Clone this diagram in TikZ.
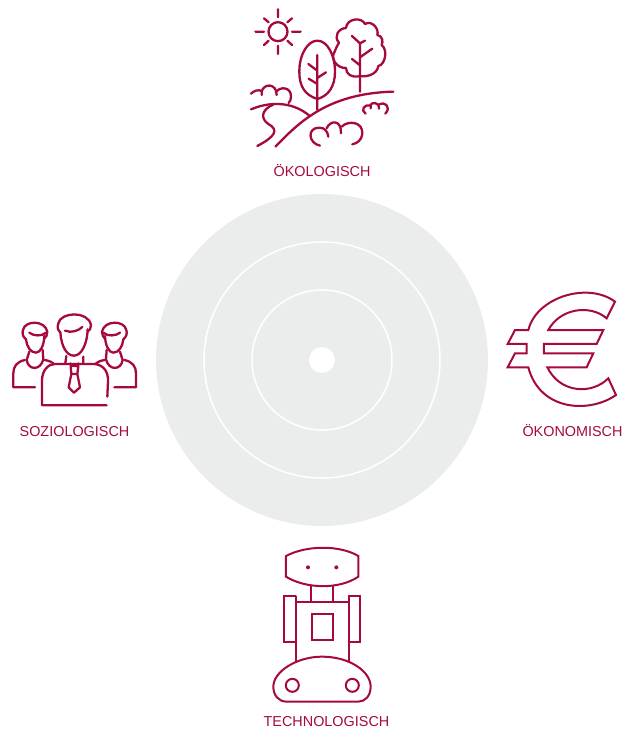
\documentclass[tikz,border=0pt]{standalone}
\usepackage{fontspec}
\setmainfont{Liberation Sans}
\definecolor{wine}{HTML}{A5093F}
\definecolor{discgrey}{HTML}{EBECEC}
\tikzset{
  icon/.style={draw=wine,line width=2.3pt,line cap=round,line join=round},
  thin icon/.style={draw=wine,line width=2pt,line cap=round,line join=miter},
  ring/.style={draw=white,line width=1.5pt},
  lbl/.style={text=wine,font=\fontsize{14.4}{16}\selectfont,inner sep=0pt,anchor=center},
  zoomed/.style={x=0.3333pt,y=-0.3333pt}
}
\begin{document}
\begin{tikzpicture}[x=1pt,y=-1pt]
\useasboundingbox (0,0) rectangle (632,729);
% disc
\fill[discgrey] (322,360) circle[radius=166pt];
\draw[ring] (322,360) circle[radius=118pt];
\draw[ring] (322,360) circle[radius=70pt];
\fill[white] (322,360) circle[radius=13pt];
% labels
\node[lbl] (oek) at (322,171) {ÖKOLOGISCH};
\node[lbl] (soz) at (74.5,432) {SOZIOLOGISCH};
\node[lbl] (oekon) at (572.5,431) {ÖKONOMISCH};
\node[lbl] (tech) at (326.5,722) {TECHNOLOGISCH};
% ecological icon
\begin{scope}[shift={(240,0)},zoomed]
\path[icon] (114,95) circle[radius=9.5pt];
\path[icon] (114,28)--(114,52) (114,137)--(114,162) (46,95)--(72,95) (156,95)--(182,95)
 (72,55)--(86,67) (156,55)--(142,67) (72,135)--(86,122) (156,135)--(142,122);
\path[icon] (232,297) .. controls (195,285) and (178,260) .. (178,215) .. controls (178,160) and (205,122) .. (232,122) .. controls (262,122) and (285,165) .. (285,215) .. controls (285,260) and (265,288) .. (232,297);
\path[icon] (232,165)--(232,330) (232,212)--(205,192) (232,234)--(258,217) (232,252)--(206,236);
\path[icon] (318,84) .. controls (320,55) and (365,50) .. (375,72) .. controls (395,60) and (418,85) .. (412,105) .. controls (428,108) and (430,125) .. (425,135) .. controls (445,150) and (435,195) .. (415,198) .. controls (412,225) and (375,232) .. (360,228) .. controls (335,235) and (318,222) .. (318,204) .. controls (290,205) and (270,175) .. (284,155) .. controls (288,145) and (292,135) .. (297,128) .. controls (280,110) and (295,85) .. (318,84);
\path[icon] (360,128)--(360,275) (360,130)--(336,108) (360,130)--(375,122) (360,172)--(397,146) (360,196)--(336,177);
\path[icon] (106,440) .. controls (175,370) and (260,280) .. (460,275);
\path[icon] (33,328) .. controls (100,300) and (165,310) .. (208,347);
\path[icon] (100,314) .. controls (65,328) and (60,355) .. (85,372) .. controls (118,390) and (105,410) .. (52,438);
\path[icon] (33,281) .. controls (42,272) and (55,268) .. (65,273) -- (65,285);
\path[icon] (65,275) .. controls (70,250) and (110,248) .. (110,285);
\path[icon] (107,277) .. controls (120,258) and (155,260) .. (153,292) .. controls (153,298) and (150,304) .. (146,309);
\path[icon] (240,437) .. controls (205,430) and (200,383) .. (238,383) .. controls (255,383) and (263,395) .. (265,410);
\path[icon] (260,385) .. controls (270,360) and (305,358) .. (303,400);
\path[icon] (305,380) .. controls (325,360) and (370,365) .. (367,402) .. controls (365,420) and (352,430) .. (337,433);
\path[icon] (377,341) .. controls (362,332) and (370,312) .. (392,317) -- (392,325);
\path[icon] (390,317) .. controls (395,305) and (418,305) .. (417,326);
\path[icon] (417,313) .. controls (432,303) and (456,320) .. (436,341);
\end{scope}
% sociological icon
\begin{scope}[shift={(0,300)},zoomed]
\path[icon] (181,97) .. controls (172,90) and (172,80) .. (175,70) .. controls (182,35) and (265,32) .. (273,75) .. controls (273,85) and (269,92) .. (263,95);
\path[icon] (195,92) .. controls (215,100) and (235,92) .. (247,81);
\path[icon] (181,97) .. controls (184,140) and (200,167) .. (222,167) .. controls (245,167) and (262,130) .. (263,88);
\path[icon] (199,168)--(196,190) (250,170)--(250,190);
\path[icon] (322,290) -- (324,245) .. controls (326,210) and (305,192) .. (280,192) -- (165,192) .. controls (145,192) and (127,210) .. (126,240) -- (126,316) -- (320,316);
\path[icon] (212,190)--(212,198)--(235,198)--(235,190) (212,198)--(214,222)--(206,262)--(222,278)--(240,262)--(232,222)--(235,198) (214,222)--(232,222);
\foreach \m/\o in {1/0,-1/448}{
 \begin{scope}[shift={(\o,0)},xscale=\m]
 \path[icon] (78,118) .. controls (68,110) and (66,100) .. (69,90) .. controls (75,60) and (135,60) .. (142,95) .. controls (142,105) and (138,112) .. (133,116);
 \path[icon] (88,98) .. controls (100,108) and (125,110) .. (138,98);
 \path[icon] (78,118) .. controls (80,140) and (92,158) .. (108,158) .. controls (122,158) and (132,135) .. (133,108);
 \path[icon] (88,155)--(80,180) .. controls (85,212) and (122,212) .. (130,178) -- (128,150);
 \path[icon] (75,180) .. controls (50,185) and (40,200) .. (40,220) -- (40,262) -- (105,262);
 \path[icon] (134,180) .. controls (145,182) and (155,185) .. (160,190);
 \end{scope}}
\end{scope}
% euro icon
\begin{scope}[shift={(495,280)},zoomed]
\path[thin icon] (360,65) -- (335,115) .. controls (285,72) and (195,85) .. (160,150) -- (325,150) -- (305,192) -- (147,192) -- (147,220) -- (295,220) -- (275,262) -- (157,262) .. controls (195,340) and (290,345) .. (340,295) -- (363,345) .. controls (285,400) and (135,395) .. (100,262) -- (38,262) -- (60,220) -- (95,220) -- (95,192) -- (38,192) -- (60,150) -- (100,150) .. controls (125,50) and (280,5) .. cycle;
\end{scope}
% robot icon
\begin{scope}[shift={(250,540)},zoomed]
\path[thin icon] (108,48) .. controls (170,15) and (270,15) .. (325,48) -- (325,110) .. controls (270,148) and (170,148) .. (108,110) -- cycle;
\fill[wine] (174,82) circle[radius=2pt] (259,82) circle[radius=2pt];
\path[thin icon] (184,138)--(184,185) (249,138)--(249,185);
\path[thin icon] (137,365)--(137,185)--(296,185)--(296,365);
\path[thin icon] (185,222) rectangle (248,300);
\path[thin icon] (137,169)--(102,169)--(102,307)--(137,307) (137,169)--(137,185);
\path[thin icon] (296,169)--(330,169)--(330,307)--(296,307) (296,169)--(296,185);
\path[thin icon] (110,485) .. controls (85,485) and (70,465) .. (70,440) .. controls (70,395) and (140,350) .. (216,350) .. controls (300,350) and (362,395) .. (362,440) .. controls (362,468) and (345,485) .. (325,485) -- cycle;
\path[thin icon] (127,436) circle[radius=6.5pt] (307,436) circle[radius=6.5pt];
\end{scope}
\end{tikzpicture}
\end{document}
